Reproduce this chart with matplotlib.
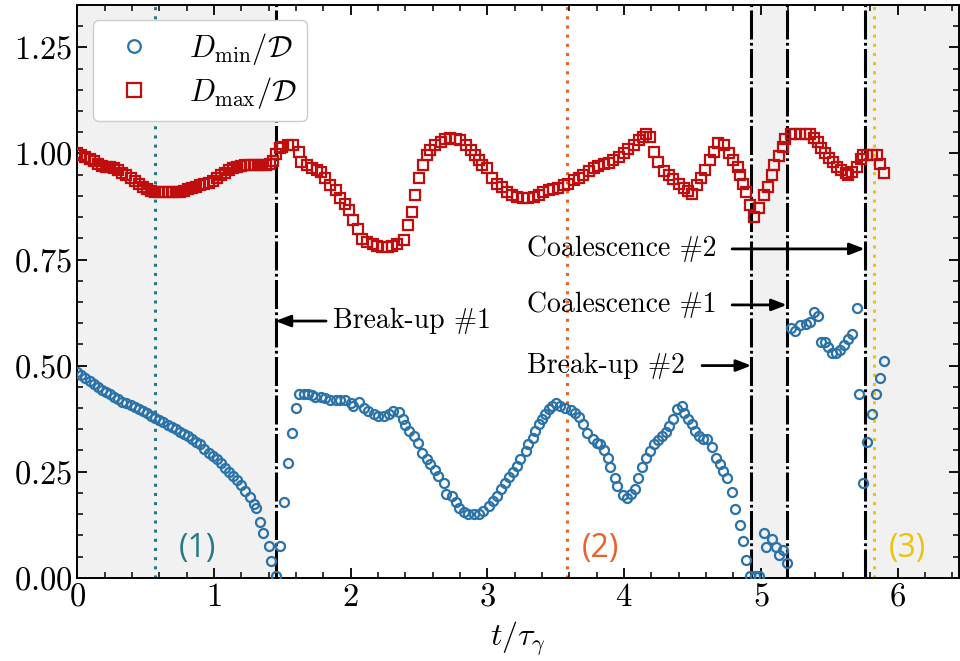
import matplotlib
matplotlib.use('Agg')
from matplotlib import pyplot as plt
from matplotlib.ticker import MultipleLocator

plt.rcParams['font.family'] = 'serif'
plt.rcParams['font.serif'] = ['cmr10', 'DejaVu Serif']
plt.rcParams['mathtext.fontset'] = 'cm'
plt.rcParams['axes.formatter.use_mathtext'] = True
plt.rcParams['axes.unicode_minus'] = False

# D_min / D  (blue circles)
t_min = [0.00, 0.03, 0.06, 0.09, 0.12, 0.15, 0.18, 0.21, 0.24, 0.27, 0.30, 0.33, 0.36, 0.39, 0.42,
         0.45, 0.48, 0.51, 0.54, 0.57, 0.60, 0.63, 0.66, 0.69, 0.72, 0.75, 0.78, 0.81, 0.84, 0.87,
         0.90, 0.93, 0.96, 0.99, 1.02, 1.05, 1.08, 1.11, 1.14, 1.17, 1.20, 1.23, 1.26, 1.29, 1.31,
         1.34, 1.36, 1.40, 1.42, 1.45,
         1.48, 1.51, 1.54, 1.57, 1.60, 1.62, 1.66, 1.69, 1.72, 1.74, 1.78, 1.81, 1.85, 1.89, 1.92,
         1.96, 2.00, 2.02, 2.06, 2.10, 2.13, 2.17, 2.20, 2.24, 2.28, 2.31, 2.35, 2.38, 2.40, 2.43,
         2.46, 2.49, 2.52, 2.56, 2.58, 2.62, 2.64, 2.68, 2.70, 2.74, 2.77, 2.79, 2.83, 2.86, 2.90,
         2.94, 2.97, 3.01, 3.04, 3.07, 3.10, 3.13, 3.16, 3.19, 3.22, 3.24, 3.28, 3.30, 3.33, 3.35,
         3.38, 3.40, 3.42, 3.45, 3.47, 3.50, 3.53, 3.57, 3.61, 3.64, 3.67, 3.70, 3.73, 3.77, 3.80,
         3.82, 3.85, 3.88, 3.90, 3.93, 3.95, 3.99, 4.02, 4.05, 4.08, 4.10, 4.13, 4.16, 4.19, 4.22,
         4.25, 4.28, 4.31, 4.33, 4.36, 4.39, 4.42, 4.44, 4.47, 4.50, 4.52, 4.55, 4.58, 4.61, 4.64,
         4.67, 4.70, 4.72, 4.75, 4.79, 4.81, 4.85, 4.87, 4.89, 4.92, 4.96, 4.99,
         5.02, 5.04, 5.08, 5.11, 5.13, 5.16, 5.19,
         5.22, 5.25, 5.29, 5.33, 5.36, 5.39, 5.42, 5.44, 5.47, 5.49, 5.52, 5.55, 5.58, 5.61, 5.64,
         5.67, 5.70, 5.72, 5.75, 5.78, 5.81, 5.84, 5.87, 5.90]
d_min = [0.485, 0.478, 0.470, 0.463, 0.456, 0.449, 0.443, 0.437, 0.433, 0.426, 0.421, 0.415, 0.411, 0.408, 0.402,
         0.398, 0.394, 0.388, 0.382, 0.376, 0.371, 0.366, 0.361, 0.356, 0.350, 0.344, 0.339, 0.333, 0.327, 0.321,
         0.314, 0.304, 0.295, 0.287, 0.279, 0.270, 0.259, 0.250, 0.240, 0.230, 0.219, 0.205, 0.190, 0.174, 0.165,
         0.131, 0.106, 0.074, 0.040, 0.005,
         0.074, 0.178, 0.270, 0.342, 0.400, 0.433, 0.433, 0.433, 0.430, 0.425, 0.425, 0.423, 0.419, 0.419, 0.419,
         0.419, 0.411, 0.405, 0.413, 0.401, 0.393, 0.385, 0.380, 0.380, 0.385, 0.393, 0.391, 0.374, 0.359, 0.346,
         0.333, 0.318, 0.295, 0.279, 0.267, 0.255, 0.240, 0.224, 0.198, 0.192, 0.178, 0.165, 0.154, 0.149, 0.149,
         0.149, 0.157, 0.169, 0.181, 0.192, 0.208, 0.224, 0.238, 0.250, 0.263, 0.279, 0.299, 0.314, 0.330, 0.346,
         0.362, 0.374, 0.385, 0.397, 0.405, 0.411, 0.404, 0.399, 0.396, 0.389, 0.378, 0.362, 0.342, 0.328, 0.318,
         0.314, 0.301, 0.281, 0.262, 0.236, 0.216, 0.196, 0.188, 0.198, 0.210, 0.236, 0.262, 0.281, 0.299, 0.314,
         0.325, 0.334, 0.344, 0.358, 0.374, 0.397, 0.405, 0.389, 0.374, 0.362, 0.346, 0.334, 0.328, 0.326, 0.307,
         0.283, 0.267, 0.251, 0.236, 0.202, 0.163, 0.125, 0.086, 0.041, 0.003, 0.003, 0.003,
         0.106, 0.073, 0.092, 0.073, 0.053, 0.066, 0.035,
         0.588, 0.582, 0.596, 0.598, 0.602, 0.627, 0.616, 0.556, 0.556, 0.543, 0.530, 0.530, 0.537, 0.548, 0.563,
         0.574, 0.635, 0.432, 0.224, 0.321, 0.385, 0.432, 0.471, 0.511]

# D_max / D  (red squares)
t_max = [0.00, 0.03, 0.06, 0.09, 0.12, 0.15, 0.18, 0.21, 0.24, 0.27, 0.30, 0.33, 0.36, 0.39, 0.42,
         0.45, 0.48, 0.51, 0.54, 0.57, 0.60, 0.63, 0.66, 0.69, 0.72, 0.75, 0.78, 0.81, 0.84, 0.87,
         0.90, 0.93, 0.96, 0.99, 1.02, 1.05, 1.08, 1.11, 1.14, 1.17, 1.20, 1.23, 1.26, 1.29, 1.32,
         1.35, 1.38, 1.41, 1.43, 1.45, 1.48, 1.50, 1.54, 1.58, 1.62, 1.64, 1.68, 1.72, 1.75, 1.78,
         1.81, 1.85, 1.89, 1.92, 1.96, 1.99, 2.02, 2.05, 2.08, 2.12, 2.16, 2.19, 2.23, 2.27, 2.30,
         2.34, 2.39, 2.42, 2.45, 2.47, 2.50, 2.53, 2.56, 2.58, 2.62, 2.66, 2.69, 2.73, 2.77, 2.80,
         2.84, 2.88, 2.91, 2.94, 2.96, 3.00, 3.03, 3.07, 3.11, 3.14, 3.18, 3.22, 3.26, 3.30, 3.34,
         3.38, 3.41, 3.45, 3.48, 3.52, 3.56, 3.59, 3.63, 3.67, 3.70, 3.74, 3.78, 3.81, 3.85, 3.89,
         3.92, 3.96, 4.00, 4.03, 4.07, 4.11, 4.14, 4.16, 4.19, 4.22, 4.25, 4.29, 4.33, 4.36, 4.40,
         4.44, 4.47, 4.50, 4.53, 4.56, 4.59, 4.63, 4.66, 4.69, 4.73, 4.77, 4.80, 4.83, 4.85, 4.87,
         4.89, 4.92, 4.95, 4.99, 5.02, 5.05, 5.08, 5.10, 5.13, 5.16, 5.18, 5.22, 5.25, 5.29, 5.33,
         5.36, 5.39, 5.42, 5.44, 5.47, 5.50, 5.53, 5.56, 5.59, 5.62, 5.64, 5.67, 5.70, 5.73, 5.75,
         5.78, 5.81, 5.85, 5.87, 5.90]
d_max = [1.000, 0.996, 0.992, 0.986, 0.982, 0.976, 0.971, 0.968, 0.967, 0.965, 0.960, 0.954, 0.949, 0.942, 0.935,
         0.928, 0.921, 0.916, 0.911, 0.908, 0.908, 0.908, 0.908, 0.908, 0.908, 0.909, 0.912, 0.916, 0.919, 0.922,
         0.925, 0.927, 0.931, 0.936, 0.943, 0.950, 0.955, 0.960, 0.965, 0.968, 0.971, 0.972, 0.972, 0.972, 0.972,
         0.972, 0.972, 0.976, 0.982, 0.998, 1.012, 1.016, 1.020, 1.020, 1.004, 0.980, 0.972, 0.965, 0.961, 0.957,
         0.941, 0.925, 0.913, 0.894, 0.882, 0.866, 0.842, 0.823, 0.799, 0.791, 0.787, 0.783, 0.779, 0.779, 0.783,
         0.787, 0.795, 0.831, 0.862, 0.901, 0.941, 0.972, 0.996, 1.008, 1.020, 1.028, 1.035, 1.037, 1.035, 1.031,
         1.020, 1.008, 0.996, 0.985, 0.972, 0.965, 0.941, 0.929, 0.921, 0.909, 0.901, 0.898, 0.895, 0.895, 0.898,
         0.903, 0.908, 0.913, 0.916, 0.919, 0.925, 0.929, 0.937, 0.943, 0.950, 0.958, 0.965, 0.970, 0.974, 0.978,
         0.984, 0.992, 1.000, 1.010, 1.020, 1.031, 1.039, 1.047, 1.039, 1.004, 0.980, 0.958, 0.949, 0.939, 0.929,
         0.919, 0.911, 0.905, 0.925, 0.941, 0.961, 0.984, 1.004, 1.024, 1.021, 1.000, 0.984, 0.968, 0.949, 0.929,
         0.909, 0.878, 0.850, 0.872, 0.901, 0.921, 0.949, 0.972, 0.995, 1.016, 1.034, 1.047, 1.047, 1.047, 1.047,
         1.047, 1.037, 1.026, 1.012, 1.000, 0.990, 0.980, 0.968, 0.961, 0.953, 0.949, 0.957, 0.968, 0.988, 0.996,
         0.996, 0.996, 0.996, 0.976, 0.954]

# event times
breakup = [1.45, 4.93]
coalescence = [5.19, 5.76]
marks = [0.57, 3.58, 5.83]
mark_labels = ['(1)', '(2)', '(3)']
mark_label_x = [0.88, 3.83, 6.07]
mark_colors = ['#267a87', '#e8632b', '#ebc30c']
shaded = [(0, 1.45), (4.93, 5.19), (5.76, 6.45)]

fig = plt.figure(figsize=(9.6, 6.61), dpi=100)
ax = fig.add_axes([0.0805, 0.126, 0.9185, 0.8665])

for a, b in shaded:
    ax.axvspan(a, b, color='#f1f1f1', zorder=0, lw=0)

for x in breakup + coalescence:
    ax.axvline(x, color='k', lw=2.2, ls=(0, (9.5, 1.1, 0.9, 1.1)), zorder=3)

for x, lx, lab, c in zip(marks, mark_label_x, mark_labels, mark_colors):
    ax.axvline(x, color=c, lw=2.2, ls=(0, (1, 2.0)), zorder=1)
    ax.text(lx, 0.07, lab, color=c, fontsize=23, family='Open Sans',
            ha='center', va='center')

ax.plot(t_min, d_min, 'o', mfc='none', mec='#2a72a8', ms=6.5, mew=1.6,
        label=r'$D_{\rm min}/\mathcal{D}$', zorder=4)
ax.plot(t_max, d_max, 's', mfc='none', mec='#c00d0d', ms=7, mew=1.6,
        label=r'$D_{\rm max}/\mathcal{D}$', zorder=4)

# annotations
arrow = dict(arrowstyle='-|>,head_length=0.9,head_width=0.35', color='k', lw=2,
             shrinkA=0, shrinkB=0)
ax.annotate('', xy=(1.45, 0.605), xytext=(1.82, 0.605), arrowprops=arrow)
ax.text(1.87, 0.605, r'Break-up #1', fontsize=20, ha='left', va='center')
ax.annotate('', xy=(5.76, 0.775), xytext=(4.79, 0.775), arrowprops=arrow)
ax.text(3.29, 0.775, r'Coalescence #2', fontsize=20, ha='left', va='center')
ax.annotate('', xy=(5.19, 0.643), xytext=(4.79, 0.643), arrowprops=arrow)
ax.text(3.29, 0.643, r'Coalescence #1', fontsize=20, ha='left', va='center')
ax.annotate('', xy=(4.93, 0.50), xytext=(4.57, 0.50), arrowprops=arrow)
ax.text(3.29, 0.50, r'Break-up #2', fontsize=20, ha='left', va='center')

ax.set_xlim(0, 6.45)
ax.set_ylim(0, 1.35)
ax.xaxis.set_major_locator(MultipleLocator(1))
ax.xaxis.set_minor_locator(MultipleLocator(0.2))
ax.yaxis.set_major_locator(MultipleLocator(0.25))
ax.yaxis.set_minor_locator(MultipleLocator(0.05))
ax.tick_params(which='both', direction='in', top=True, right=True, labelsize=23.5)
ax.tick_params(which='major', length=7, width=1.3)
ax.tick_params(which='minor', length=4, width=1.1)
for s in ax.spines.values():
    s.set_linewidth(1.4)
ax.set_xlabel(r'$t/\tau_\gamma$', fontsize=23, labelpad=6)

ax.legend(loc='upper left', fontsize=22, edgecolor='#cccccc', framealpha=1,
          markerscale=1.4, labelspacing=0.25, borderpad=0.35)

plt.savefig('out.png', dpi=100)
